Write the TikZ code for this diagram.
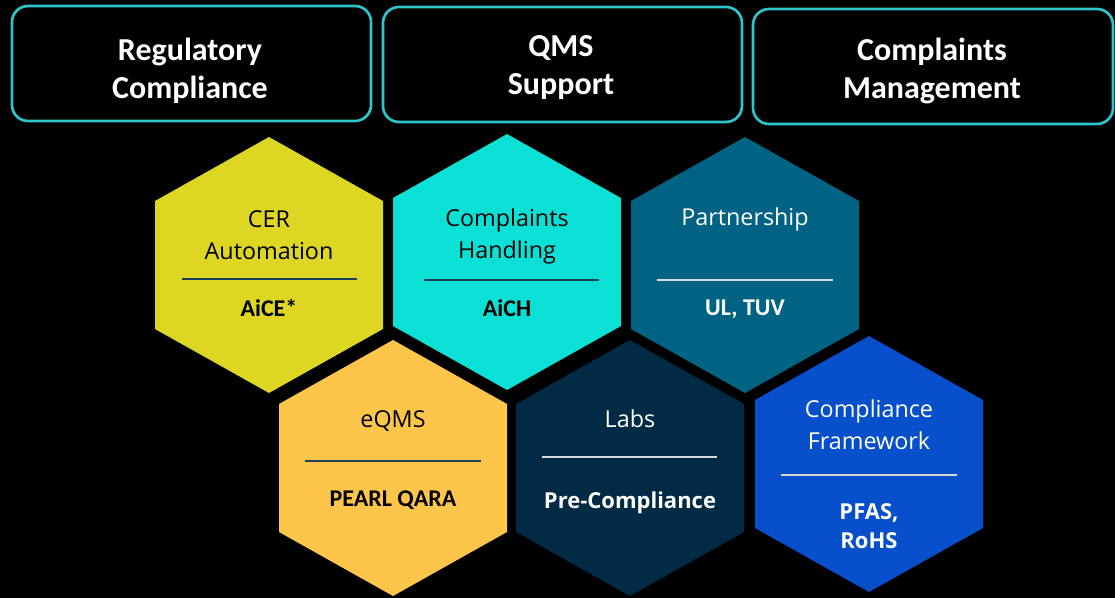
\documentclass[tikz,border=0pt]{standalone}
\usepackage{fontspec}
\setmainfont{Carlito}
\newfontfamily\hexfont{Open Sans}
\usetikzlibrary{positioning}

\definecolor{boxline}{HTML}{2CC5C9}
\definecolor{cerfill}{HTML}{DDD622}
\definecolor{chfill}{HTML}{0AE0D6}
\definecolor{partfill}{HTML}{006383}
\definecolor{eqmsfill}{HTML}{FDC64A}
\definecolor{labsfill}{HTML}{012B45}
\definecolor{cffill}{HTML}{084FCB}
\definecolor{darkrule}{HTML}{1B3F5A}
\definecolor{lightrule}{HTML}{D9D9D9}

% hexagon: name, centre x, centre y, fill
\newcommand\hexcell[4]{%
  \coordinate (#1) at (#2,#3);
  \fill[#4] (#1) ++(0,-128) -- ++(114,64) -- ++(0,128) -- ++(-114,64)
    -- ++(-114,-64) -- ++(0,-128) -- cycle;
}

\tikzset{
  topbox/.style={draw=boxline,line width=2pt,rounded corners=12pt},
  toptext/.style={text=white,align=center,
    font=\bfseries\fontsize{24}{28.5}\selectfont},
  hextitle/.style={align=center,font=\hexfont\fontsize{17.5}{24}\selectfont},
  hexbold/.style={align=center,font=\bfseries\fontsize{18}{21}\selectfont},
  hexboldsans/.style={align=center,font=\hexfont\bfseries\fontsize{16.5}{21.5}\selectfont},
  hexrule/.style={line width=1.6pt},
}

\begin{document}
\begin{tikzpicture}[x=0.75pt,y=-0.75pt]
  \fill[black] (0,0) rectangle (1115,598);
  \useasboundingbox (0,0) rectangle (1115,598);

  % top headings
  \draw[topbox] (12,6) rectangle (371,121);
  \node[toptext] (reg) at (190,71) {Regulatory\\Compliance};
  \draw[topbox] (383,7) rectangle (742,122);
  \node[toptext] (qms) at (561,68) {QMS\\Support};
  \draw[topbox] (753,9) rectangle (1113,124);
  \node[toptext] (cmgmt) at (932,71) {Complaints\\Management};

  % first row
  \hexcell{cer}{269}{265}{cerfill}
  \hexcell{ch}{507}{262}{chfill}
  \hexcell{part}{745}{265}{partfill}
  % second row
  \hexcell{eqms}{393}{468}{eqmsfill}
  \hexcell{labs}{630}{468}{labsfill}
  \hexcell{cf}{869}{464}{cffill}

  % CER Automation
  \node[hextitle,text=black] (cert) at (269,235) {CER\\Automation};
  \draw[hexrule,darkrule] (182,279) -- (357,279);
  \node[hexbold,text=black] (cerb) at (269,308) {AiCE*};

  % Complaints Handling
  \node[hextitle,text=black] (cht) at (507,236) {Complaints\\Handling};
  \draw[hexrule,darkrule] (424,280) -- (599,280);
  \node[hexbold,text=black] (chb) at (507,308) {AiCH};

  % Partnership
  \node[hextitle,text=white] (partt) at (745,219) {Partnership};
  \draw[hexrule,lightrule] (657,280) -- (833,280);
  \node[hexbold,text=white] (partb) at (745,309) {UL, TUV};

  % eQMS
  \node[hextitle,text=black] (eqmst) at (393,421) {eQMS};
  \draw[hexrule,darkrule] (305,461) -- (481,461);
  \node[hexbold,text=black] (eqmsb) at (393,500) {PEARL QARA};

  % Labs
  \node[hextitle,text=white] (labst) at (630,419) {Labs};
  \draw[hexrule,lightrule] (542,457) -- (717,457);
  \node[hexboldsans,text=white] (labsb) at (630,503) {Pre-Compliance};

  % Compliance Framework
  \node[hextitle,text=white] (cft) at (869,425) {Compliance\\Framework};
  \draw[hexrule,lightrule] (781,475) -- (957,475);
  \node[hexboldsans,text=white] (cfb) at (869,526) {PFAS,\\RoHS};
\end{tikzpicture}
\end{document}
